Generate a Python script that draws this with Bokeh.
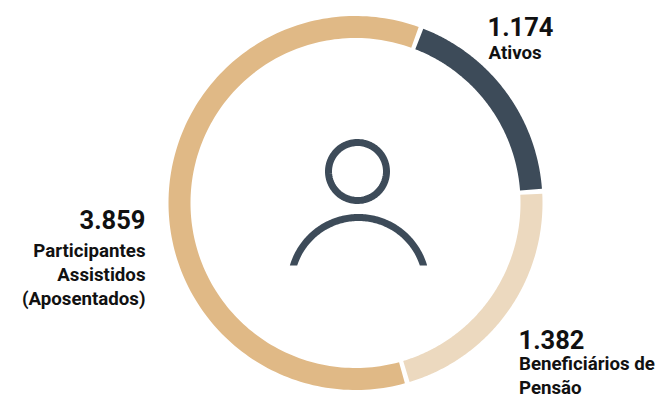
import numpy as np
from bokeh.core.properties import value
from bokeh.embed import file_html
from bokeh.models import Range1d
from bokeh.plotting import figure
from bokeh.resources import INLINE

# Participant counts, clockwise from the top of the ring
categories = ["Ativos", "Beneficiários de Pensão", "Participantes Assistidos (Aposentados)"]
counts = [1174, 1382, 3859]
count_labels = ["1.174", "1.382", "3.859"]
ring_colors = ["#3d4b59", "#ecd9bf", "#e0b986"]

# Text blocks: (x, y of the number), alignment and the caption lines
number_pos = [(487, 26), (518, 339), (145, 219)]
aligns = ["left", "left", "right"]
caption_x = [488, 518.5, 145]
caption_lines = [["Ativos"], ["Beneficiários de", "Pensão"], ["Participantes", "Assistidos", "(Aposentados)"]]
caption_start = [52, 363, 250]

WIDTH, HEIGHT = 658, 399
CX, CY = 355, 202.5
R_OUT, R_IN = 187, 165
START_DEG = 20.5
GAP_DEG = 1.5
DARK = "#3d4b59"
FONT = "Roboto"

p = figure(width=WIDTH, height=HEIGHT, output_backend="svg", toolbar_location=None,
           x_range=Range1d(0, WIDTH), y_range=Range1d(HEIGHT, 0),
           x_axis_type=None, y_axis_type=None, min_border=0,
           outline_line_color=None, background_fill_color="white", border_fill_color="white")
p.grid.visible = False

# Ring: each sweep is that category's share of the total
shares = np.array(counts, dtype=float) / sum(counts)
bounds = START_DEG + np.concatenate([[0], np.cumsum(shares)]) * 360
for a0, a1, color in zip(bounds[:-1], bounds[1:], ring_colors):
    t = np.radians(np.linspace(a0 + GAP_DEG / 2, a1 - GAP_DEG / 2, 160))
    xs = np.concatenate([CX + R_OUT * np.sin(t), CX + R_IN * np.sin(t[::-1])])
    ys = np.concatenate([CY - R_OUT * np.cos(t), CY - R_IN * np.cos(t[::-1])])
    p.patch(xs, ys, fill_color=color, line_color=None)

# Person icon: head circle
t = np.linspace(0, 2 * np.pi, 120)
p.line(357 + 29 * np.cos(t), 171 + 29 * np.sin(t), line_color=DARK, line_width=7)

# Person icon: shoulders, a circular band cut flat at its lower ends
SH_X, SH_Y, SH_OUT, SH_IN, SH_CUT = 358, 285, 71.5, 64.5, 265
a_out = np.arccos((SH_Y - SH_CUT) / SH_OUT)
a_in = np.arccos((SH_Y - SH_CUT) / SH_IN)
t_out = np.linspace(-a_out, a_out, 120)
t_in = np.linspace(a_in, -a_in, 120)
p.patch(np.concatenate([SH_X + SH_OUT * np.sin(t_out), SH_X + SH_IN * np.sin(t_in)]),
        np.concatenate([SH_Y - SH_OUT * np.cos(t_out), SH_Y - SH_IN * np.cos(t_in)]),
        fill_color=DARK, line_color=None)

# Numbers and captions
for label, (x, y), align, cx, lines, y0 in zip(count_labels, number_pos, aligns, caption_x, caption_lines, caption_start):
    p.text([x], [y], text=[label], text_font=value(FONT), text_font_style="bold",
           text_font_size="25.5px", text_color="#111111", text_align=align, text_baseline="alphabetic")
    for i, line in enumerate(lines):
        p.text([cx], [y0 + i * 24], text=[line], text_font=value(FONT), text_font_style="bold",
               text_font_size="18.7px", text_color="#111111", text_align=align, text_baseline="alphabetic")

open("out.html", "w").write(file_html(p, INLINE))
